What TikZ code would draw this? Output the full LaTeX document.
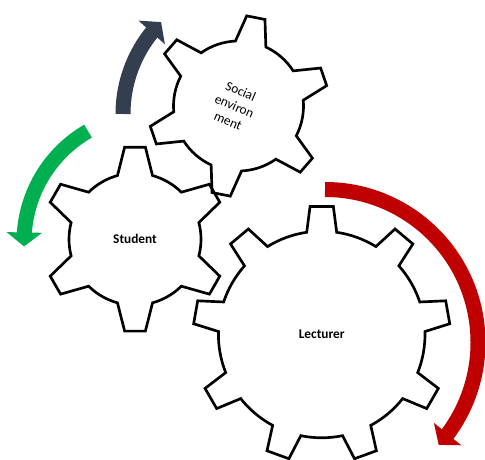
\documentclass[tikz,border=0pt]{standalone}
\usepackage{fontspec}
\setmainfont{Carlito}
\usetikzlibrary{arrows.meta,bending}

\definecolor{arrowdark}{HTML}{333F50}
\definecolor{arrowgreen}{HTML}{00B050}
\definecolor{arrowred}{HTML}{C00000}

\tikzset{
  gearline/.style={line width=2pt},
  gearlabel/.style={font=\bfseries},
  rotarrow/.style={line width=11.25pt,-{Triangle[width=26pt,length=10.5pt]}}
}

%Шестерня: #1 центр, #2 число зубьев, #3 R, #4 r, #5 полуугол вершины, #6 полуугол основания, #7 угол первого зуба
\newcommand{\gear}[7]{%
  \begin{scope}[shift={(#1)}]
    \pgfmathsetmacro{\gstep}{360/#2}
    \pgfmathsetmacro{\gfirst}{#7-#6}
    \draw[gearline] (\gfirst:#4)
      \foreach \k [evaluate=\k as \ta using #7+(\k-1)*\gstep-#5,
                   evaluate=\k as \tb using #7+(\k-1)*\gstep+#5,
                   evaluate=\k as \tc using #7+(\k-1)*\gstep+#6,
                   evaluate=\k as \td using #7+\k*\gstep-#6] in {1,...,#2}
      { -- (\ta:#3) -- (\tb:#3) -- (\tc:#4) arc[start angle=\tc,end angle=\td,radius=#4] } -- cycle;
  \end{scope}}

\begin{document}
\begin{tikzpicture}[x=0.75pt,y=0.75pt]
\useasboundingbox (0,0) rectangle (485,460);

%Центры шестерён
\coordinate (student) at (135,220.8);
\coordinate (social) at (238.5,354);
\coordinate (lecturer) at (321.7,125.5);

%Построение шестерён
\gear{student}{6}{92.5}{66}{6.45}{15.4}{90}
\gear{social}{6}{90.5}{65}{5.9}{13.8}{78.9}
\gear{lecturer}{9}{128.5}{103.3}{5.2}{8.35}{90}

%Подписи
\node[gearlabel] (studentlabel) at (student) {Student};
\node[gearlabel] (lecturerlabel) at (lecturer) {Lecturer};
\node[rotate=-23.5,align=center] (sociallabel) at ([xshift=-3]social) {Social\\environ\\ment};

%Стрелки вращения
\coordinate (darkc) at (253,346);
\coordinate (greenc) at (152,218);
\coordinate (redc) at (325,117.5);
\draw[rotarrow,arrowdark] ([shift={(180:130)}]darkc) arc[start angle=180,end angle=135,radius=130];
\draw[rotarrow,arrowgreen] ([shift={(120:128)}]greenc) arc[start angle=120,end angle=182,radius=128];
\draw[rotarrow,arrowred] ([shift={(90:153)}]redc) arc[start angle=90,end angle=-42,radius=153];

\end{tikzpicture}
\end{document}
